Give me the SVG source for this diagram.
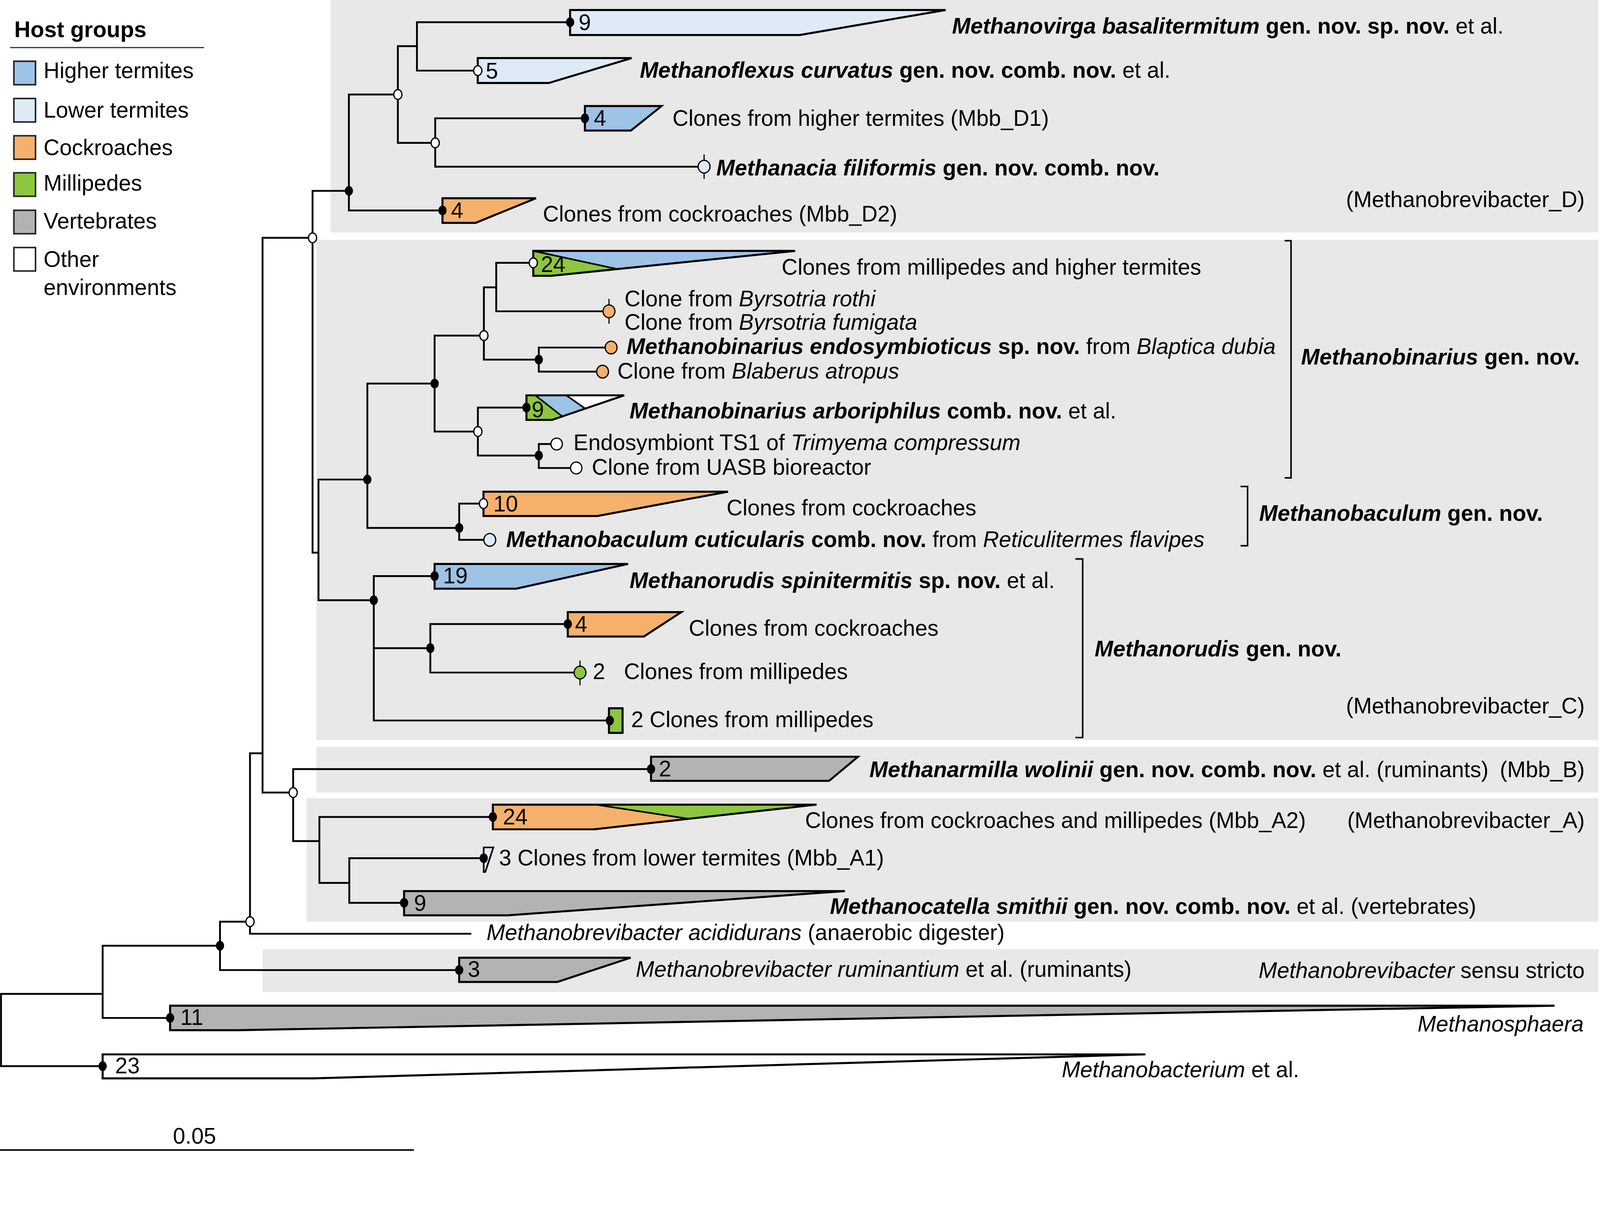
<svg xmlns="http://www.w3.org/2000/svg" width="4319" height="3107" viewBox="0 0 4319 3107">
<style>
.t{font-family:'Liberation Sans',Arial,sans-serif;font-size:21.7px;fill:#000}
.i{font-style:italic}
.b{font-weight:bold}
.bi{font-weight:bold;font-style:italic}
.bx{fill:#e8e8e8}
.cn{fill:none;stroke:#000;stroke-width:1.8;stroke-linecap:square}
.cl{stroke:#000;stroke-width:2;stroke-linejoin:miter}
.dv{stroke:#000;stroke-width:1.6;fill:none}
.ht{fill:#9dc3e6}.lt{fill:#deebf7}.cr{fill:#f5b16c}.mp{fill:#8dc63f}.vt{fill:#b3b3b3}.ot{fill:#fff}
.nf{fill:#000}
.no{fill:#fff;stroke:#000;stroke-width:1.2}
.tk{stroke:#000;stroke-width:1.1}
.lg{stroke:#222;stroke-width:1.5}
.brk{fill:none;stroke:#000;stroke-width:1.5}
</style>
<rect width="4319" height="3107" fill="#fff"/>
<g transform="scale(2.6123)">
<g id="backgrounds">
<rect class="bx" x="324" y="0" width="1242.5" height="227.7"/>
<rect class="bx" x="310" y="235" width="1256.5" height="490"/>
<rect class="bx" x="310" y="731.5" width="1256.5" height="45"/>
<rect class="bx" x="300.6" y="781.9" width="1265.9" height="121"/>
<rect class="bx" x="257.3" y="930" width="1309.2" height="42"/>
</g>
<g id="legend">
<text class="t b" x="14" y="36.4" style="font-size:22px">Host groups</text>
<line x1="10" y1="46.6" x2="200" y2="46.6" stroke="#333" stroke-width="1.2"/>
<rect class="lg ht" x="13.6" y="60" width="21.2" height="23"/>
<text class="t" x="42.7" y="76.7">Higher termites</text>
<rect class="lg lt" x="13.6" y="96.5" width="21.2" height="23"/>
<text class="t" x="42.7" y="115.1">Lower termites</text>
<rect class="lg cr" x="13.6" y="133" width="21.2" height="23"/>
<text class="t" x="42.7" y="151.9">Cockroaches</text>
<rect class="lg mp" x="13.6" y="169.3" width="21.2" height="23"/>
<text class="t" x="42.7" y="187">Millipedes</text>
<rect class="lg vt" x="13.6" y="206" width="21.2" height="23"/>
<text class="t" x="42.7" y="223.9">Vertebrates</text>
<rect class="lg ot" x="13.6" y="242.5" width="21.2" height="23"/>
<text class="t" x="42.7" y="261.3">Other</text>
<text class="t" x="42.7" y="289.2">environments</text>
</g>
<g id="connectors">
<path class="cn" d="M1,973.7V1044.5M1,973.7H100.6M1,1044.5H100.6
M100.6,926.5V997.3M100.6,926.5H215.6M100.6,997.3H166.7
M215.6,903V950.4M215.6,903H245M215.6,950.4H450
M245,738V914.8M245,914.8H461M245,738H257.3
M257.3,233V776.5M257.3,233H306.3M257.3,776.5H287.3
M306.3,187V541.4M306.3,187H341.9M306.3,541.4H312.1
M341.9,92.6V206.2M341.9,92.6H389.9M341.9,206.2H433.6
M389.9,45.2V140M389.9,45.2H408.6M389.9,140H426.5
M408.6,21.8V69.2M408.6,21.8H558.7M408.6,69.2H468.2
M426.5,115.9V163.3M426.5,115.9H573.2M426.5,163.3H690
M312.1,469.8V588M312.1,469.8H360M312.1,588H366.3
M360,375.8V517.2M360,375.8H425.9M360,517.2H450
M425.9,328.8V422.8M425.9,328.8H474.2M425.9,422.8H468.3
M474.2,281.5V352.3M474.2,281.5H486.3M474.2,352.3H528
M486.3,257.5V305M486.3,257.5H522.6M486.3,305H596.8
M528,340.5V364.1M528,340.5H598.9M528,364.1H590.5
M468.3,399.3V446.3M468.3,399.3H515.9M468.3,446.3H528
M528,435V458.5M528,435H545.5M528,458.5H564.7
M450,493.4V528.9M450,493.4H473.8M450,528.9H480
M366.3,564.4V705.9M366.3,564.4H425.9M366.3,635H421.7M366.3,705.9H597.6
M421.7,611.4V658.9M421.7,611.4H556.4M421.7,658.9H568.4
M287.3,753.5V824M287.3,753.5H638M287.3,824H313
M313,800.4V865M313,800.4H483M313,865H342.3
M342.3,840.8V884.5M342.3,840.8H474M342.3,884.5H396"/>
</g>
<g id="internal-nodes">
<ellipse class="nf" cx="215.6" cy="926.5" rx="4" ry="4.8"/>
<ellipse class="no" cx="245" cy="903" rx="4" ry="4.8"/>
<ellipse class="no" cx="306.3" cy="233" rx="4" ry="4.8"/>
<ellipse class="nf" cx="341.9" cy="187" rx="4" ry="4.8"/>
<ellipse class="no" cx="389.9" cy="92.6" rx="4" ry="4.8"/>
<ellipse class="no" cx="426.5" cy="140" rx="4" ry="4.8"/>
<ellipse class="nf" cx="360" cy="469.8" rx="4" ry="4.8"/>
<ellipse class="nf" cx="425.9" cy="375.8" rx="4" ry="4.8"/>
<ellipse class="no" cx="474.2" cy="328.8" rx="4" ry="4.8"/>
<ellipse class="nf" cx="528" cy="352.3" rx="4" ry="4.8"/>
<ellipse class="no" cx="468.3" cy="422.8" rx="4" ry="4.8"/>
<ellipse class="nf" cx="528" cy="446.3" rx="4" ry="4.8"/>
<ellipse class="nf" cx="450" cy="517.2" rx="4" ry="4.8"/>
<ellipse class="nf" cx="366.3" cy="588" rx="4" ry="4.8"/>
<ellipse class="nf" cx="421.7" cy="635" rx="4" ry="4.8"/>
<ellipse class="no" cx="287.3" cy="776.5" rx="4" ry="4.8"/>
</g>
<g id="clade-methanovirga">
<polygon class="cl lt" points="558.7,9.8 926.7,9.8 783.7,34.3 558.7,34.3"/>
<ellipse class="nf" cx="558.7" cy="21.8" rx="4" ry="4.8"/>
<text class="t" x="567" y="29.5">9</text>
<text class="t" x="933" y="33"><tspan class="bi">Methanovirga basalitermitum</tspan><tspan class="b"> gen. nov. sp. nov.</tspan> et al.</text>
</g>
<g id="clade-methanoflexus">
<polygon class="cl lt" points="468.2,56.9 619,56.9 537.8,81.3 468.2,81.3"/>
<ellipse class="no" cx="468.2" cy="69.2" rx="4" ry="4.8"/>
<text class="t" x="476" y="76.8">5</text>
<text class="t" x="627" y="76"><tspan class="bi">Methanoflexus curvatus</tspan><tspan class="b"> gen. nov. comb. nov.</tspan> et al.</text>
</g>
<g id="clade-mbb-d1">
<polygon class="cl ht" points="573.2,103.9 648.3,103.9 618.3,127.9 573.2,127.9"/>
<ellipse class="nf" cx="573.2" cy="115.9" rx="4" ry="4.8"/>
<text class="t" x="582" y="123.4">4</text>
<text class="t" x="659" y="123.4">Clones from higher termites (Mbb_D1)</text>
</g>
<g id="leaf-methanacia">
<line class="tk" x1="690" y1="151.3" x2="690" y2="175.4"/>
<ellipse cx="690" cy="163.3" rx="5.8" ry="6.2" fill="#deebf7" stroke="#000" stroke-width="1.2"/>
<text class="t" x="702" y="172"><tspan class="bi">Methanacia filiformis</tspan><tspan class="b"> gen. nov. comb. nov.</tspan></text>
</g>
<g id="clade-mbb-d2">
<polygon class="cl cr" points="433.6,194.2 525.3,194.2 466.2,218.3 433.6,218.3"/>
<ellipse class="nf" cx="433.6" cy="206.2" rx="4" ry="4.8"/>
<text class="t" x="442" y="213.7">4</text>
<text class="t" x="532" y="217">Clones from cockroaches (Mbb_D2)</text>
<text class="t" x="1553" y="203" text-anchor="end">(Methanobrevibacter_D)</text>
</g>
<g id="clade-millipedes-higher">
<polygon class="mp" points="522.6,245.8 603.9,263.4 540.5,270.2 522.6,270.2"/>
<polygon class="ht" points="522.6,245.8 779.3,245.8 603.9,263.4"/>
<line class="dv" x1="522.6" y1="245.8" x2="603.9" y2="263.4"/>
<polygon class="cl" fill="none" points="522.6,245.8 779.3,245.8 540.5,270.2 522.6,270.2"/>
<ellipse class="no" cx="522.6" cy="257.5" rx="4" ry="4.8"/>
<text class="t" x="530" y="266.4">24</text>
<text class="t" x="766" y="269">Clones from millipedes and higher termites</text>
</g>
<g id="leaf-byrsotria">
<line class="tk" x1="596.8" y1="292.8" x2="596.8" y2="317.1"/>
<ellipse cx="596.8" cy="305" rx="5.8" ry="6.2" fill="#f5b16c" stroke="#000" stroke-width="1.2"/>
<text class="t" x="612" y="300">Clone from <tspan class="i">Byrsotria rothi</tspan></text>
<text class="t" x="612" y="323">Clone from <tspan class="i">Byrsotria fumigata</tspan></text>
</g>
<g id="leaf-endosymbioticus">
<ellipse cx="598.9" cy="340.5" rx="5.8" ry="6.2" fill="#f5b16c" stroke="#000" stroke-width="1.2"/>
<text class="t" x="614" y="347"><tspan class="bi">Methanobinarius endosymbioticus</tspan><tspan class="b"> sp. nov.</tspan> from <tspan class="i">Blaptica dubia</tspan></text>
</g>
<g id="leaf-blaberus">
<ellipse cx="590.5" cy="364.1" rx="5.8" ry="6.2" fill="#f5b16c" stroke="#000" stroke-width="1.2"/>
<text class="t" x="605" y="371">Clone from <tspan class="i">Blaberus atropus</tspan></text>
</g>
<g id="clade-arboriphilus">
<polygon class="mp" points="515.9,387.3 524.6,387.3 550.6,407.6 541,411.4 515.9,411.4"/>
<polygon class="ht" points="524.6,387.3 554.9,387.3 573.4,400.2 550.6,407.6"/>
<polygon class="ot" points="554.9,387.3 611.7,387.3 573.4,400.2"/>
<line class="dv" x1="524.6" y1="387.3" x2="550.6" y2="407.6"/>
<line class="dv" x1="554.9" y1="387.3" x2="573.4" y2="400.2"/>
<polygon class="cl" fill="none" points="515.9,387.3 611.7,387.3 541,411.4 515.9,411.4"/>
<ellipse class="nf" cx="515.9" cy="399.3" rx="4" ry="4.8"/>
<text class="t" x="521" y="409">9</text>
<text class="t" x="617" y="410"><tspan class="bi">Methanobinarius arboriphilus</tspan><tspan class="b"> comb. nov.</tspan> et al.</text>
</g>
<g id="leaf-ts1">
<ellipse class="no" cx="545.5" cy="435" rx="5.6" ry="5.8"/>
<text class="t" x="562" y="441">Endosymbiont TS1 of <tspan class="i">Trimyema compressum</tspan></text>
</g>
<g id="leaf-uasb">
<ellipse class="no" cx="564.7" cy="458.5" rx="5.6" ry="5.8"/>
<text class="t" x="580" y="465">Clone from UASB bioreactor</text>
</g>
<g id="clade-baculum-cockroaches">
<polygon class="cl cr" points="473.8,481.7 713.5,481.7 585.5,505.5 473.8,505.5"/>
<ellipse class="no" cx="473.8" cy="493.4" rx="4" ry="4.8"/>
<text class="t" x="483.5" y="501">10</text>
<text class="t" x="712" y="505">Clones from cockroaches</text>
</g>
<g id="leaf-cuticularis">
<ellipse cx="480" cy="528.9" rx="5.8" ry="6.2" fill="#deebf7" stroke="#000" stroke-width="1.2"/>
<text class="t" x="496" y="536"><tspan class="bi">Methanobaculum cuticularis</tspan><tspan class="b"> comb. nov.</tspan> from <tspan class="i">Reticulitermes flavipes</tspan></text>
</g>
<g id="clade-spinitermitis">
<polygon class="cl ht" points="425.9,552.5 615.5,552.5 505.9,576.7 425.9,576.7"/>
<ellipse class="nf" cx="425.9" cy="564.4" rx="4" ry="4.8"/>
<text class="t" x="434.2" y="571.4">19</text>
<text class="t" x="617" y="576"><tspan class="bi">Methanorudis spinitermitis</tspan><tspan class="b"> sp. nov.</tspan> et al.</text>
</g>
<g id="clade-rudis-cockroaches">
<polygon class="cl cr" points="556.4,599.7 667.6,599.7 631,623.6 556.4,623.6"/>
<ellipse class="nf" cx="556.4" cy="611.4" rx="4" ry="4.8"/>
<text class="t" x="563.5" y="618.9">4</text>
<text class="t" x="675" y="623">Clones from cockroaches</text>
</g>
<g id="leaf-millipedes-1">
<line class="tk" x1="568.4" y1="647.2" x2="568.4" y2="671.4"/>
<ellipse cx="568.4" cy="658.9" rx="5.8" ry="6.2" fill="#8dc63f" stroke="#000" stroke-width="1.2"/>
<text class="t" x="581" y="665.5">2</text>
<text class="t" x="611.4" y="665.5">Clones from millipedes</text>
</g>
<g id="clade-millipedes-2">
<rect class="cl mp" x="596.8" y="693.9" width="13.3" height="24.1"/>
<ellipse class="nf" cx="597.6" cy="705.9" rx="4" ry="4.8"/>
<text class="t" x="618.5" y="712.5">2 Clones from millipedes</text>
</g>
<g id="brackets">
<path class="brk" d="M1258.9,235.8H1265.2V468.2H1258.9"/>
<path class="brk" d="M1215.7,476.6H1222.6V534.7H1215.7"/>
<path class="brk" d="M1053.8,547.6H1061V722.6H1053.8"/>
<text class="t" x="1275" y="357.3"><tspan class="bi">Methanobinarius</tspan><tspan class="b"> gen. nov.</tspan></text>
<text class="t" x="1234" y="510.3"><tspan class="bi">Methanobaculum</tspan><tspan class="b"> gen. nov.</tspan></text>
<text class="t" x="1072.7" y="643.2"><tspan class="bi">Methanorudis</tspan><tspan class="b"> gen. nov.</tspan></text>
<text class="t" x="1553" y="699" text-anchor="end">(Methanobrevibacter_C)</text>
</g>
<g id="clade-mbb-b">
<polygon class="cl vt" points="638,741.4 840.8,741.4 812.5,765 638,765"/>
<ellipse class="nf" cx="638" cy="753.5" rx="4" ry="4.8"/>
<text class="t" x="645.7" y="760.5">2</text>
<text class="t" x="852" y="761.5"><tspan class="bi">Methanarmilla wolinii</tspan><tspan class="b"> gen. nov. comb. nov.</tspan> et al. (ruminants)</text>
<text class="t" x="1553" y="761.5" text-anchor="end">(Mbb_B)</text>
</g>
<g id="clade-mbb-a2">
<polygon class="cr" points="483,788.3 583.5,788.3 675,802.2 581.8,812.5 483,812.5"/>
<polygon class="mp" points="583.5,788.3 800.2,788.3 675,802.2"/>
<line class="dv" x1="583.5" y1="788.3" x2="675" y2="802.2"/>
<polygon class="cl" fill="none" points="483,788.3 800.2,788.3 581.8,812.5 483,812.5"/>
<ellipse class="nf" cx="483" cy="800.4" rx="4" ry="4.8"/>
<text class="t" x="492.9" y="807.6">24</text>
<text class="t" x="789" y="811">Clones from cockroaches and millipedes (Mbb_A2)</text>
<text class="t" x="1553" y="811" text-anchor="end">(Methanobrevibacter_A)</text>
</g>
<g id="clade-mbb-a1">
<polygon class="cl lt" style="stroke-width:1.6" points="474,830.2 483.5,830.2 475.6,854.3 474,854.3"/>
<ellipse class="nf" cx="474" cy="840.8" rx="4" ry="4.8"/>
<text class="t" x="489" y="847.8">3 Clones from lower termites (Mbb_A1)</text>
</g>
<g id="clade-smithii">
<polygon class="cl vt" points="396,873 828,873 497.4,896.8 396,896.8"/>
<ellipse class="nf" cx="396" cy="884.5" rx="4" ry="4.8"/>
<text class="t" x="405.7" y="892.3">9</text>
<text class="t" x="813.4" y="895.5"><tspan class="bi">Methanocatella smithii</tspan><tspan class="b"> gen. nov. comb. nov.</tspan> et al. (vertebrates)</text>
</g>
<g id="leaf-acididurans">
<text class="t" x="476.8" y="921"><tspan class="i">Methanobrevibacter acididurans</tspan> (anaerobic digester)</text>
</g>
<g id="clade-ruminantium">
<polygon class="cl vt" points="450,938.3 618,938.3 546.3,962 450,962"/>
<ellipse class="nf" cx="450" cy="950.4" rx="4" ry="4.8"/>
<text class="t" x="458.4" y="957">3</text>
<text class="t" x="623" y="957"><tspan class="i">Methanobrevibacter ruminantium</tspan> et al. (ruminants)</text>
<text class="t" x="1553" y="958" text-anchor="end"><tspan class="i">Methanobrevibacter</tspan> sensu stricto</text>
</g>
<g id="clade-methanosphaera">
<polygon class="cl vt" points="166.7,985.3 1523.4,985.3 233.4,1009.3 166.7,1009.3"/>
<ellipse class="nf" cx="166.7" cy="997.3" rx="4" ry="4.8"/>
<text class="t" x="176.7" y="1004">11</text>
<text class="t i" x="1552" y="1010.5" text-anchor="end">Methanosphaera</text>
</g>
<g id="clade-methanobacterium">
<polygon class="cl ot" points="100.6,1033 1122.5,1033 307,1056.5 100.6,1056.5"/>
<ellipse class="nf" cx="100.6" cy="1044.5" rx="4" ry="4.8"/>
<text class="t" x="112.8" y="1051.7">23</text>
<text class="t" x="1040.5" y="1055.5"><tspan class="i">Methanobacterium</tspan> et al.</text>
</g>
<g id="scale-bar">
<line x1="0" y1="1126.7" x2="405.6" y2="1126.7" stroke="#000" stroke-width="1.6"/>
<text class="t" x="169.5" y="1120.5">0.05</text>
</g>
</g>
</svg>
